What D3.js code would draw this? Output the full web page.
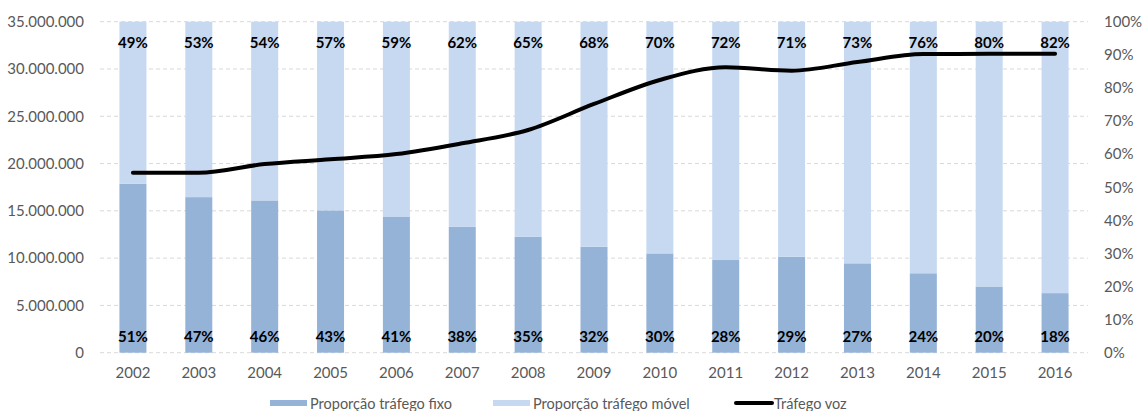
<!DOCTYPE html>
<html>
<head>
<meta charset="utf-8">
<script src="https://cdn.jsdelivr.net/npm/d3@7"></script>
<style>
  html, body { margin: 0; padding: 0; background: #fff; }
  svg { display: block; font-family: Lato, "Open Sans", sans-serif; }
</style>
</head>
<body>
<svg id="chart" width="1143" height="411"></svg>
<script>
// Years on the category axis
const years = ["2002","2003","2004","2005","2006","2007","2008","2009","2010","2011","2012","2013","2014","2015","2016"];
// Share of fixed-line traffic (%)
const fixo = [51, 47, 46, 43, 41, 38, 35, 32, 30, 28, 29, 27, 24, 20, 18];
// Share of mobile traffic (%)
const movel = [49, 53, 54, 57, 59, 62, 65, 68, 70, 72, 71, 73, 76, 80, 82];
// Total voice traffic
const voz = [19030000, 19030000, 19950000, 20450000, 21000000, 22140000, 23550000, 26300000,
             28840000, 30180000, 29820000, 30740000, 31580000, 31600000, 31620000];
// Axis ticks
const leftTicks = [0, 5000000, 10000000, 15000000, 20000000, 25000000, 30000000, 35000000];
const rightTicks = [0, 10, 20, 30, 40, 50, 60, 70, 80, 90, 100];
const seriesNames = ["Proporção tráfego fixo", "Proporção tráfego móvel", "Tráfego voz"];

const colFixo = "#95B3D7", colMovel = "#C6D9F1", colText = "#595959";

const svg = d3.select("#chart");
const m = { left: 100, right: 1088, top: 21.7, bottom: 352.7 };

const x = d3.scaleBand().domain(years).range([m.left, m.right]).paddingInner(0.59).paddingOuter(0.295);
const yL = d3.scaleLinear().domain([0, 35000000]).range([m.bottom, m.top]);
const yR = d3.scaleLinear().domain([0, 100]).range([m.bottom, m.top]);

const fmt = d => d === 0 ? "0" : d3.format(",")(d).replace(/,/g, ".");

// Horizontal dashed gridlines
svg.append("g").selectAll("line").data(leftTicks).join("line")
  .attr("x1", m.left).attr("x2", m.right)
  .attr("y1", d => yL(d)).attr("y2", d => yL(d))
  .attr("stroke", "#D9D9D9").attr("stroke-width", 1).attr("stroke-dasharray", "4,3");

// Left axis labels
const axL = svg.append("g").attr("transform", `translate(${m.left},0)`)
  .call(d3.axisLeft(yL).tickValues(leftTicks).tickFormat(fmt).tickSize(0).tickPadding(16));
axL.select(".domain").remove();
axL.selectAll("text").attr("fill", colText).style("font-size", "15px").style("font-family", "Lato, sans-serif");

// Right axis labels
const axR = svg.append("g").attr("transform", `translate(${m.right},0)`)
  .call(d3.axisRight(yR).tickValues(rightTicks).tickFormat(d => d + "%").tickSize(0).tickPadding(16));
axR.select(".domain").remove();
axR.selectAll("text").attr("fill", colText).style("font-size", "15px").style("font-family", "Lato, sans-serif");

// Bottom axis labels
const axB = svg.append("g").attr("transform", `translate(0,${m.bottom})`)
  .call(d3.axisBottom(x).tickSize(0).tickPadding(15));
axB.select(".domain").remove();
axB.selectAll("text").attr("fill", colText).style("font-size", "15px").style("font-family", "Lato, sans-serif");

// Stacked percentage bars
const bars = svg.append("g");
bars.selectAll("rect.fixo").data(years).join("rect").attr("class", "fixo")
  .attr("x", d => x(d)).attr("width", x.bandwidth())
  .attr("y", (d, i) => yR(fixo[i])).attr("height", (d, i) => yR(0) - yR(fixo[i]))
  .attr("fill", colFixo);
bars.selectAll("rect.movel").data(years).join("rect").attr("class", "movel")
  .attr("x", d => x(d)).attr("width", x.bandwidth())
  .attr("y", (d, i) => yR(fixo[i] + movel[i])).attr("height", (d, i) => yR(fixo[i]) - yR(fixo[i] + movel[i]))
  .attr("fill", colMovel);

// Voice traffic line
const line = d3.line().x((d, i) => x(years[i]) + x.bandwidth() / 2).y(d => yL(d)).curve(d3.curveMonotoneX);
svg.append("path").datum(voz).attr("d", line)
  .attr("fill", "none").attr("stroke", "#000").attr("stroke-width", 4)
  .attr("stroke-linecap", "round").attr("stroke-linejoin", "round");

// Percentage labels
const lbl = svg.append("g").style("font-family", "Lato, sans-serif").style("font-weight", "bold").style("font-size", "15px");
lbl.selectAll("text.m").data(movel).join("text").attr("class", "m")
  .attr("x", (d, i) => x(years[i]) + x.bandwidth() / 2).attr("y", yR(94))
  .attr("text-anchor", "middle").attr("dominant-baseline", "central").attr("fill", "#000")
  .text(d => d + "%");
lbl.selectAll("text.f").data(fixo).join("text").attr("class", "f")
  .attr("x", (d, i) => x(years[i]) + x.bandwidth() / 2).attr("y", yR(5.15))
  .attr("text-anchor", "middle").attr("dominant-baseline", "central").attr("fill", "#000")
  .text(d => d + "%");

// Legend
const leg = svg.append("g").style("font-family", "Lato, sans-serif").style("font-size", "14.5px");
const legY = 403;
const legItems = [
  { x: 270, name: seriesNames[0], type: "rect", color: colFixo },
  { x: 493, name: seriesNames[1], type: "rect", color: colMovel },
  { x: 734, name: seriesNames[2], type: "line", color: "#000" }
];
legItems.forEach(it => {
  if (it.type === "rect") {
    leg.append("rect").attr("x", it.x).attr("y", legY - 3).attr("width", 37).attr("height", 6).attr("fill", it.color);
  } else {
    leg.append("line").attr("x1", it.x + 2).attr("x2", it.x + 38).attr("y1", legY).attr("y2", legY)
      .attr("stroke", it.color).attr("stroke-width", 4).attr("stroke-linecap", "round");
  }
  leg.append("text").attr("x", it.x + 40).attr("y", legY).attr("dominant-baseline", "central")
    .attr("fill", colText).text(it.name);
});
</script>
</body>
</html>
